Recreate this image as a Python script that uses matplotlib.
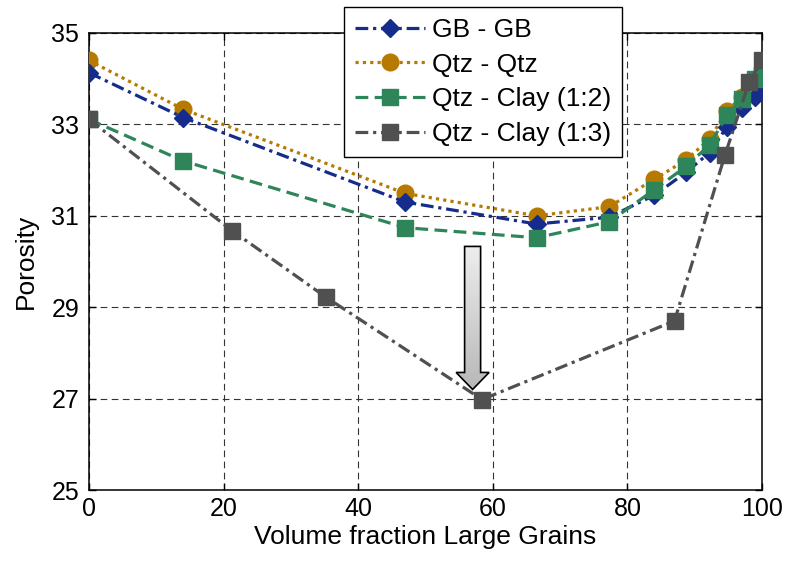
import numpy as np
import matplotlib

matplotlib.use("Agg")

import matplotlib.pyplot as plt
from matplotlib.patches import Polygon

WIDTH = 788
HEIGHT = 564
DPI = 100

# Data.
frac_main = [0, 14, 47, 66.5, 77.3, 84, 88.7, 92.2, 94.8, 97, 99, 100]
gb_gb = [34.13, 33.15, 31.3, 30.82, 30.97, 31.45, 31.95, 32.38, 32.95, 33.35, 33.6, 33.78]
qtz_qtz = [34.4, 33.33, 31.49, 31.0, 31.2, 31.8, 32.22, 32.68, 33.3, 33.6, 33.95, 34.2]
qtz_clay_12 = [33.11, 32.2, 30.74, 30.52, 30.87, 31.57, 32.08, 32.55, 33.2, 33.56, 34.0, 34.1]

frac_13 = [0, 21.3, 35.2, 58.4, 87, 94.5, 98.1, 100]
qtz_clay_13 = [33.11, 30.67, 29.22, 26.98, 28.7, 32.33, 33.93, 34.4]

labels = ["GB - GB", "Qtz - Qtz", "Qtz - Clay (1:2)", "Qtz - Clay (1:3)"]
x_ticks = [0, 20, 40, 60, 80, 100]
y_ticks = [25, 27, 29, 31, 33, 35]

BLUE = "#162c8c"
GOLD = "#b67a00"
GREEN = "#2e8559"
GRAY = "#505050"

plt.rcParams["font.family"] = ["Liberation Sans", "DejaVu Sans"]
plt.rcParams["font.size"] = 19

fig = plt.figure(figsize=(WIDTH / DPI, HEIGHT / DPI), dpi=DPI, facecolor="white")
ax = fig.add_axes([89 / WIDTH, 1 - 490 / HEIGHT, (762 - 89) / WIDTH, (490 - 33) / HEIGHT])

lw = 2.3
ax.plot(frac_main, gb_gb, color=BLUE, lw=lw, linestyle=(0, (4, 1.5, 1, 1.5)),
        marker="D", markersize=9, label=labels[0], zorder=4)
ax.plot(frac_main, qtz_qtz, color=GOLD, lw=lw, linestyle=(0, (1, 1.3)),
        marker="o", markersize=12, label=labels[1], zorder=3)
ax.plot(frac_main, qtz_clay_12, color=GREEN, lw=lw, linestyle=(0, (4, 2)),
        marker="s", markersize=11.5, label=labels[2], zorder=5)
ax.plot(frac_13, qtz_clay_13, color=GRAY, lw=lw, linestyle=(0, (4, 1.5, 1, 1.5)),
        marker="s", markersize=11.5, label=labels[3], zorder=6)

ax.set_xlim(0, 100)
ax.set_ylim(25, 35)
ax.set_xticks(x_ticks)
ax.set_yticks(y_ticks)
ax.grid(True, color="0.2", linestyle=(0, (6, 4)), linewidth=0.8)
ax.set_axisbelow(True)
ax.tick_params(direction="in", length=5, width=1, top=True, right=True,
               labelsize=18)
ax.tick_params(axis="y", pad=7)
ax.tick_params(axis="x", pad=5)
for spine in ax.spines.values():
    spine.set_linewidth(1.1)
ax.set_xlabel("Volume fraction Large Grains", labelpad=3)
ax.set_ylabel("Porosity", labelpad=10)

# Shaded down arrow pointing at the minimum.
ppx = 100 / (762 - 89)
ppy = 10 / (490 - 33)
ax_c = 57.0
shaft = 8 * ppx
head = 16.5 * ppx
top, tip = 30.33, 27.2
neck = tip + 17 * ppy
verts = [(ax_c - shaft, top), (ax_c + shaft, top), (ax_c + shaft, neck),
         (ax_c + head, neck), (ax_c, tip), (ax_c - head, neck),
         (ax_c - shaft, neck)]
arrow = Polygon(verts, closed=True, facecolor="none", edgecolor="black",
                linewidth=1.2, zorder=8)
ax.add_patch(arrow)
grad = np.linspace(0.93, 0.72, 100).reshape(-1, 1)
img = ax.imshow(grad, cmap="gray", vmin=0, vmax=1, aspect="auto",
                extent=(ax_c - head, ax_c + head, tip, top), origin="upper",
                zorder=7)
img.set_clip_path(arrow)

leg = ax.legend(loc="upper left", bbox_to_anchor=(344 / WIDTH, 1 - 7 / HEIGHT),
                bbox_transform=fig.transFigure, borderaxespad=0,
                handlelength=2.65, handletextpad=0.25, labelspacing=0.4,
                borderpad=0.42, fancybox=False, framealpha=1, edgecolor="black")
leg.get_frame().set_linewidth(1.0)
leg.set_zorder(10)

fig.savefig("out.png", dpi=DPI, facecolor="white")
